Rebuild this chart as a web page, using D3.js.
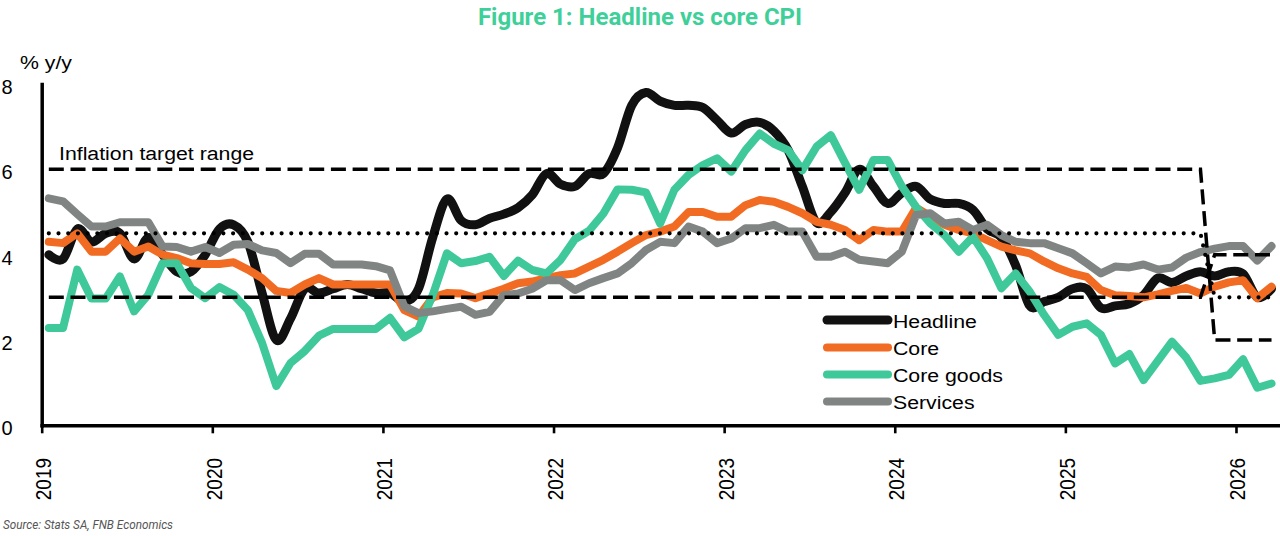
<!DOCTYPE html>
<html>
<head>
<meta charset="utf-8">
<script src="https://cdn.jsdelivr.net/npm/d3@7"></script>
<style>
  body { margin: 0; background: #fff; }
  svg { display: block; font-family: "Liberation Sans", Arial, sans-serif; }
</style>
</head>
<body>
<svg id="chart"></svg>
<script>
// Monthly data, Jan 2019 - Mar 2026 (% y/y)
const headline = [
  4.0, 3.9, 4.6, 4.3, 4.5, 4.5, 3.9, 4.4, 4.0, 3.6, 3.6, 4.0,
  4.6, 4.7, 4.3, 3.1, 2.0, 2.5, 3.2, 3.1, 3.2, 3.3, 3.2, 3.1,
  3.1, 2.9, 3.2, 4.4, 5.3, 4.8, 4.7, 4.85, 4.95, 5.1, 5.4, 5.9,
  5.65, 5.6, 5.9, 5.9, 6.5, 7.5, 7.8, 7.6, 7.5, 7.5, 7.45, 7.15,
  6.85, 7.05, 7.1, 6.9, 6.45, 5.6, 4.75, 5.0, 5.45, 6.0, 5.6, 5.2,
  5.45, 5.6, 5.3, 5.2, 5.2, 5.05, 4.6, 4.4, 3.75, 2.8, 2.9, 3.0,
  3.2, 3.2, 2.75, 2.8, 2.85, 3.05, 3.45, 3.35, 3.5, 3.6, 3.5, 3.6,
  3.55, 3.0, 3.2
];
const core = [
  4.3, 4.27, 4.5, 4.07, 4.07, 4.38, 4.07, 4.19, 4.0, 3.92, 3.8, 3.78,
  3.78, 3.82, 3.65, 3.45, 3.15, 3.1, 3.3, 3.45, 3.3, 3.3, 3.3, 3.3,
  3.3, 2.7, 2.55, 3.0, 3.1, 3.09, 2.98, 3.09, 3.2, 3.33, 3.37, 3.45,
  3.52, 3.56, 3.72, 3.88, 4.07, 4.27, 4.46, 4.54, 4.66, 5.0, 5.0, 4.89,
  4.89, 5.16, 5.28, 5.24, 5.12, 4.97, 4.77, 4.7, 4.58, 4.34, 4.58, 4.54,
  4.54, 5.1, 4.9, 4.7, 4.58, 4.5, 4.34, 4.19, 4.1, 4.03, 3.84, 3.68,
  3.56, 3.48, 3.17, 3.05, 3.03, 3.0, 3.07, 3.15, 3.22, 3.09, 3.25, 3.35,
  3.4, 2.98, 3.25
];
const coreGoods = [
  2.28, 2.28, 3.65, 2.97, 2.97, 3.49, 2.67, 3.06, 3.8, 3.8, 3.22, 2.98,
  3.24, 3.06, 2.7, 1.93, 0.92, 1.46, 1.74, 2.1, 2.26, 2.26, 2.26, 2.26,
  2.52, 2.06, 2.26, 3.05, 4.03, 3.8, 3.85, 3.95, 3.5, 3.86, 3.64, 3.56,
  3.88, 4.36, 4.56, 4.96, 5.53, 5.52, 5.46, 4.73, 5.52, 5.87, 6.1, 6.26,
  5.95, 6.45, 6.84, 6.6, 6.45, 5.98, 6.53, 6.8, 6.15, 5.52, 6.22, 6.22,
  5.6, 5.12, 4.73, 4.46, 4.07, 4.42, 3.91, 3.21, 3.56, 3.13, 2.59, 2.12,
  2.31, 2.39, 2.12, 1.45, 1.67, 1.06, 1.51, 1.96, 1.59, 1.04, 1.1, 1.18,
  1.55, 0.88, 0.98
];
const services = [
  5.32, 5.25, 4.95, 4.66, 4.66, 4.76, 4.76, 4.76, 4.19, 4.18, 4.07, 4.18,
  4.04, 4.23, 4.25, 4.1, 4.04, 3.8, 4.02, 4.02, 3.77, 3.77, 3.77, 3.73,
  3.63, 2.79, 2.63, 2.67, 2.73, 2.78, 2.59, 2.66, 3.05, 3.09, 3.2, 3.4,
  3.4, 3.17, 3.33, 3.45, 3.56, 3.8, 4.11, 4.3, 4.27, 4.66, 4.54, 4.27,
  4.38, 4.62, 4.62, 4.7, 4.54, 4.54, 3.95, 3.95, 4.07, 3.88, 3.84, 3.8,
  4.07, 4.93, 4.97, 4.73, 4.77, 4.58, 4.7, 4.46, 4.3, 4.27, 4.27, 4.15,
  4.03, 3.8, 3.56, 3.72, 3.7, 3.77, 3.65, 3.7, 3.93, 4.06, 4.14, 4.2,
  4.2, 3.86, 4.2
];

// Inflation target range: breakpoints (month index from Jan 2019)
const targetMonths = [0, 81, 82, 86];
const targetUpper = [6, 6, 2, 2];
const targetLower = [3, 3, 4, 4];
const targetMid = [4.5, 4.5, 3, 3];

const yearTicks = [2019, 2020, 2021, 2022, 2023, 2024, 2025, 2026];
const yTicks = [0, 2, 4, 6, 8];

const series = [
  { name: "Headline", values: headline, color: "#111111", width: 9, smooth: true },
  { name: "Core", values: core, color: "#f26b22", width: 8 },
  { name: "Core goods", values: coreGoods, color: "#3fc99a", width: 8 },
  { name: "Services", values: services, color: "#808583", width: 8 }
];

// Size
const width = 1280;
const height = 536;

const svg = d3.select("#chart")
    .attr("width", width)
    .attr("height", height);

const x = d3.scaleLinear()
    .domain([2019, 2026.258])
    .range([41.7, 1280]);

const y = d3.scaleLinear()
    .domain([0, 8])
    .range([425.3, 84]);

const monthX = i => x(2019 + (i + 0.5) / 12);

// stretched Arial-like label
function label(g, tx, ty, str, size) {
    return g.append("text")
        .attr("transform", `translate(${tx},${ty}) scale(1.12,1)`)
        .attr("font-size", size)
        .attr("fill", "#000")
        .text(str);
}

// Title
svg.append("text")
    .attr("x", 640)
    .attr("y", 25)
    .attr("text-anchor", "middle")
    .attr("font-family", "Roboto, sans-serif")
    .attr("font-weight", "bold")
    .attr("font-size", 24)
    .attr("fill", "#3fd09a")
    .text("Figure 1: Headline vs core CPI");

// Y unit
label(svg, 20, 69, "% y/y", 19);

// Data lines
const line = d3.line()
    .x((d, i) => monthX(i))
    .y(d => y(d));

svg.append("g")
    .selectAll("path")
    .data(series)
    .enter()
    .append("path")
    .attr("d", s => line.curve(s.smooth ? d3.curveCatmullRom.alpha(0) : d3.curveLinear)(s.values))
    .attr("fill", "none")
    .attr("stroke", s => s.color)
    .attr("stroke-width", s => s.width)
    .attr("stroke-linejoin", "round")
    .attr("stroke-linecap", "round");

// Target range lines
const targetLine = d3.line()
    .x((d, i) => monthX(targetMonths[i]))
    .y(d => y(d));

[targetUpper, targetLower].forEach(vals => {
    svg.append("path")
        .attr("d", targetLine(vals))
        .attr("fill", "none")
        .attr("stroke", "#000")
        .attr("stroke-width", 3.5)
        .attr("stroke-dasharray", "15 6.7");
});

svg.append("path")
    .attr("d", targetLine(targetMid))
    .attr("fill", "none")
    .attr("stroke", "#000")
    .attr("stroke-width", 4.2)
    .attr("stroke-linecap", "round")
    .attr("stroke-dasharray", "0 9.7");

label(svg, 59, 159.5, "Inflation target range", 19);

// X axis
const xAxis = svg.append("g")
    .attr("transform", `translate(0,${y(0)})`)
    .call(d3.axisBottom(x).tickValues(yearTicks).tickSize(8).tickSizeOuter(0).tickFormat(""));
xAxis.select(".domain").attr("stroke", "#000").attr("stroke-width", 3.5).attr("stroke-linecap", "square");
xAxis.selectAll(".tick line").attr("stroke", "#000").attr("stroke-width", 2.6);

svg.append("g")
    .selectAll("text")
    .data(yearTicks)
    .enter()
    .append("text")
    .attr("transform", d => `translate(${x(d) + 9.4},458) rotate(-90) scale(1,1.12)`)
    .attr("text-anchor", "end")
    .attr("font-size", 19)
    .attr("fill", "#000")
    .text(d => d);

// Y axis
const yAxis = svg.append("g")
    .attr("transform", `translate(${x(2019)},0)`)
    .call(d3.axisLeft(y).tickValues(yTicks).tickSize(0).tickSizeOuter(0).tickPadding(29));
yAxis.select(".domain").attr("stroke", "#000").attr("stroke-width", 3.5).attr("stroke-linecap", "square");
yAxis.selectAll("text")
    .attr("font-size", 20)
    .attr("font-family", "Liberation Sans, Arial, sans-serif")
    .attr("fill", "#000")
    .attr("dy", "0.47em");

// Legend
const legend = svg.append("g");
const legendY = [320, 347.5, 374.5, 401.5];
series.forEach((s, i) => {
    legend.append("line")
        .attr("x1", 827).attr("x2", 888)
        .attr("y1", legendY[i]).attr("y2", legendY[i])
        .attr("stroke", s.color)
        .attr("stroke-width", s.width)
        .attr("stroke-linecap", "round");
    label(legend, 893, legendY[i] + 7.5, s.name, 19);
});

// Source
svg.append("text")
    .attr("x", 3)
    .attr("y", 529)
    .attr("font-family", "Roboto, sans-serif")
    .attr("font-style", "italic")
    .attr("font-size", 13)
    .attr("fill", "#555")
    .attr("textLength", 170)
    .attr("lengthAdjust", "spacingAndGlyphs")
    .text("Source: Stats SA, FNB Economics");
</script>
</body>
</html>
